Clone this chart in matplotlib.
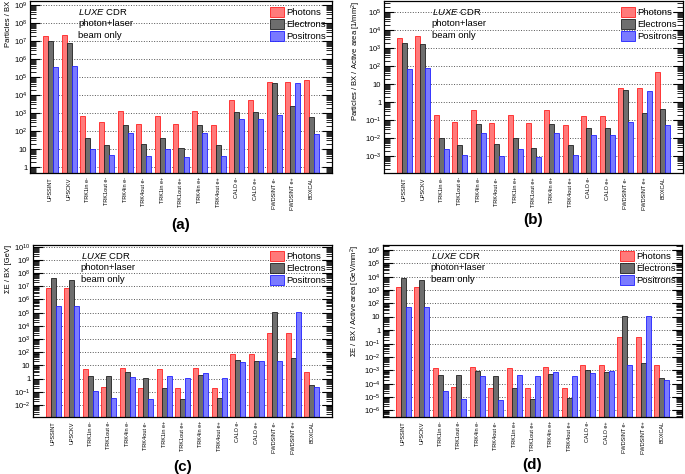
import numpy as np
import matplotlib.pyplot as plt
from matplotlib.ticker import LogLocator, FuncFormatter, NullFormatter

plt.rcParams['font.family'] = ['Liberation Sans', 'DejaVu Sans']
plt.rcParams['mathtext.fontset'] = 'custom'
plt.rcParams['mathtext.rm'] = 'Liberation Sans'
plt.rcParams['mathtext.it'] = 'Liberation Sans:italic'

# categories (bins) along x
categories = ['UPSSINT', 'UPSCKV', 'TRK1in e-', 'TRK1out e-', 'TRK4in e-', 'TRK4out e-',
              'TRK1in e+', 'TRK1out e+', 'TRK4in e+', 'TRK4out e+', 'CALO e-', 'CALO e+',
              'FWDSINT e-', 'FWDSINT e+', 'BOXCAL']

# (a) Particles / BX
a_photons = [1.9e7, 2.2e7, 700, 300, 1300, 250, 700, 260, 1300, 230, 5000, 5000, 5.5e4, 5.5e4, 6.5e4]
a_electrons = [1.0e7, 8e6, 40, 16, 230, 18, 40, 11, 230, 17, 1100, 1100, 4.5e4, 2500, 600]
a_positrons = [3.5e5, 4e5, 10, 4, 80, 3.5, 9, 3, 75, 3.8, 450, 450, 800, 4.5e4, 70]

# (b) Particles / BX / Active area
b_photons = [3800, 4500, 0.2, 0.08, 0.35, 0.065, 0.2, 0.07, 0.35, 0.055, 0.17, 0.16, 6, 6, 45]
b_electrons = [1800, 1700, 0.01, 0.0042, 0.06, 0.0048, 0.01, 0.0028, 0.06, 0.0042, 0.037, 0.037, 4.5, 0.25, 0.4]
b_positrons = [70, 80, 0.0025, 0.001, 0.02, 0.0009, 0.0025, 0.00075, 0.02, 0.001, 0.015, 0.015, 0.08, 4.2, 0.05]

# (c) Sum E / BX
c_photons = [8e6, 7.5e6, 5, 0.25, 6.5, 0.18, 5, 0.2, 6, 0.18, 75, 70, 3000, 3000, 3.3]
c_electrons = [4e7, 3e7, 1.6, 1.5, 3, 1.2, 0.18, 0.028, 2, 0.03, 27, 22, 1.2e5, 35, 0.33]
c_positrons = [3e5, 3e5, 0.12, 0.03, 1.4, 0.025, 1.6, 1.2, 2.8, 1.2, 18, 23, 22, 1.2e5, 0.23]

# (d) Sum E / BX / Active area
d_photons = [1800, 1600, 1.4e-3, 6e-5, 1.8e-3, 4.5e-5, 1.4e-3, 5e-5, 1.7e-3, 4.5e-5, 2.4e-3, 2.4e-3, 0.3, 0.3, 2.4e-3]
d_electrons = [8500, 6000, 4.2e-4, 4.2e-4, 9e-4, 3.8e-4, 5e-5, 7e-6, 5e-4, 8e-6, 1e-3, 7.5e-4, 11, 3.5e-3, 2.5e-4]
d_positrons = [50, 55, 3e-5, 7e-6, 3.8e-4, 6e-6, 4.2e-4, 3.6e-4, 7.5e-4, 3.6e-4, 6e-4, 8.5e-4, 2.3e-3, 11, 1.8e-4]

panels = [
    ('(a)', 'Particles / BX', a_photons, a_electrons, a_positrons, (10**-0.33, 10**9.22)),
    ('(b)', 'Particles / BX / Active area [1/mm$^2$]', b_photons, b_electrons, b_positrons, (10**-3.94, 10**5.61)),
    ('(c)', 'ΣE / BX [GeV]', c_photons, c_electrons, c_positrons, (10**-2.91, 10**10.13)),
    ('(d)', 'ΣE / BX / Active area [GeV/mm$^2$]', d_photons, d_electrons, d_positrons, (10**-6.5, 10**6.375)),
]

# axes boxes in pixels: left, top, right, bottom
W, H = 685, 474
boxes = [(30, 1, 332, 173), (384, 1, 683, 173), (33, 245, 332, 417), (383, 245, 682, 417)]
tag_y = [225, 220, 467, 465]


def fmt(v, pos):
    n = int(round(np.log10(v)))
    if n == 0:
        return '1'
    if n == 1:
        return '10'
    return '$10^{%d}$' % n


fig = plt.figure(figsize=(W / 100, H / 100), dpi=100)
x = np.arange(len(categories))
w = 0.27

for (tag, ylab, ph, el, po, ylim), (l, t, r, b), ty in zip(panels, boxes, tag_y):
    ax = fig.add_axes([l / W, 1 - b / H, (r - l) / W, (b - t) / H])
    ax.set_yscale('log')
    ax.set_ylim(*ylim)
    ax.set_xlim(-1.1, 15.1)
    ax.bar(x - w, ph, w, bottom=ylim[0], color='#ff7a7a', edgecolor='#ff2020', linewidth=0.6, label='Photons')
    ax.bar(x, el, w, bottom=ylim[0], color='#6e6e6e', edgecolor='#202020', linewidth=0.6, label='Electrons')
    ax.bar(x + w, po, w, bottom=ylim[0], color='#7a7aff', edgecolor='#2020ff', linewidth=0.6, label='Positrons')

    ax.yaxis.set_major_locator(LogLocator(base=10, numticks=30))
    ax.yaxis.set_minor_locator(LogLocator(base=10, subs=np.arange(2, 10), numticks=30))
    ax.yaxis.set_major_formatter(FuncFormatter(fmt))
    ax.yaxis.set_minor_formatter(NullFormatter())
    ax.tick_params(axis='y', which='major', direction='in', length=7, width=0.8, right=True, labelsize=5.5, pad=2)
    ax.tick_params(axis='y', which='minor', direction='in', length=4, width=0.6, right=True)
    ax.grid(True, axis='y', which='major', color='#555555', linestyle=':', linewidth=0.7)
    ax.set_axisbelow(True)

    ax.set_xticks(x)
    ax.set_xticklabels(categories, rotation=90, fontsize=4)
    ax.tick_params(axis='x', which='major', length=0, pad=3)
    for s in ax.spines.values():
        s.set_linewidth(0.9)

    ax.set_ylabel(ylab, loc='top', fontsize=5.5, labelpad=1)

    ax.text(0.16, 0.965, r'$\it{LUXE}$ CDR', transform=ax.transAxes, fontsize=6.8, va='top')
    ax.text(0.16, 0.895, 'photon+laser', transform=ax.transAxes, fontsize=6.8, va='top')
    ax.text(0.16, 0.825, 'beam only', transform=ax.transAxes, fontsize=6.8, va='top')
    ax.legend(loc='upper right', frameon=False, fontsize=6.8, handlelength=1.5, handleheight=1.3,
              handletextpad=0.25, labelspacing=0.2, borderaxespad=0.3, borderpad=0.3)

    fig.text((l + r) / 2 / W, 1 - ty / H, tag, fontsize=11, fontweight='bold', ha='center', va='center')

fig.savefig('out.png', dpi=100)
